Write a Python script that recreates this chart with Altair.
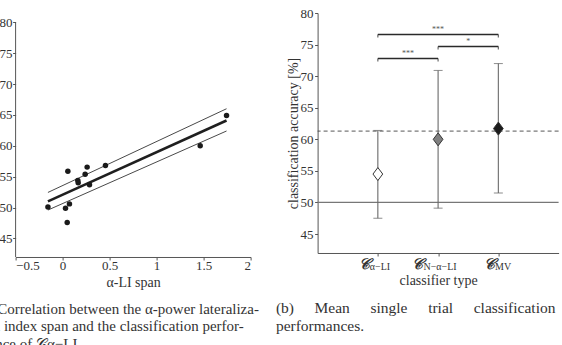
import altair as alt
import pandas as pd

# ---------------- Panel (a): correlation ----------------
li_span = [-0.156, 0.031, 0.049, 0.073, 0.056, 0.162, 0.166, 0.240, 0.261, 0.286, 0.456, 1.464, 1.744]
li_acc = [50.1, 49.9, 47.6, 50.6, 55.9, 54.4, 54.0, 55.4, 56.55, 53.7, 56.8, 60.0, 64.9]
fit_x = [-0.156, 1.744]
fit_mid = [51.0, 64.1]
fit_upper = [52.45, 66.0]
fit_lower = [49.6, 62.4]
x_ticks_a = [-0.5, 0, 0.5, 1, 1.5, 2]
y_ticks = [45, 50, 55, 60, 65, 70, 75, 80]
y_axis_range = [42, 80]

# ---------------- Panel (b): classifier accuracy ----------------
classifiers = ["α-LI", "N-α-LI", "MV"]
class_sub = ["α−LI", "N−α−LI", "MV"]
class_pos = [1, 2, 3]
mean_acc = [54.5, 60.0, 61.7]
acc_low = [47.5, 49.1, 51.5]
acc_high = [61.4, 70.9, 72.0]
chance_level = [50]
reference_level = [61.3]
bracket_from = [1, 2, 1]
bracket_to = [3, 3, 2]
bracket_y = [76.6, 74.7, 72.8]
bracket_stars = ["***", "*", "***"]

caption_a = ["(a) Correlation between the α-power lateraliza-",
             "tion index span and the classification perfor-",
             "mance of 𝒞α−LI."]
nb = "\u00a0" * 5 + "\u200a"
caption_b = ["(b)" + nb + "Mean" + nb + "single" + nb + "trial" + nb + "classification",
             "performances."]

FONT = "Liberation Serif"
AXC = "#555555"

dfa = pd.DataFrame({"span": li_span, "acc": li_acc})
dfit = pd.DataFrame({"span": fit_x, "mid": fit_mid, "upper": fit_upper, "lower": fit_lower})
dax = pd.DataFrame({"x": [x_ticks_a[0]], "y1": [y_axis_range[0]], "y2": [y_axis_range[1]]})
dfb = pd.DataFrame({"pos": class_pos, "cls": classifiers, "sub": class_sub,
                    "mean": mean_acc, "lo": acc_low, "hi": acc_high})
dbr = pd.DataFrame({"a": bracket_from, "b": bracket_to, "y": bracket_y, "stars": bracket_stars})

WA, HA = 235, 244
WB, HB = 241, 240

# ---- left panel scales / axes
xs_a = alt.Scale(domain=[-0.5, 2], nice=False, zero=False)
ys_a = alt.Scale(domain=[42, 81.5], nice=False, zero=False)
ax_xa = alt.Axis(values=x_ticks_a, format="~g", title="α-LI span", tickSize=3,
                 labelPadding=0, titlePadding=3, labelOverlap=False)
ax_ya = alt.Axis(values=y_ticks, title=None, tickSize=3, labelPadding=0.5,
                 labelOverlap=False, domain=False)


def XA(field):
    return alt.X(field, scale=xs_a, axis=ax_xa, title="α-LI span")


def YA(field):
    return alt.Y(field, scale=ys_a, axis=ax_ya, title=None)


pts = alt.Chart(dfa).mark_circle(size=30, color="#1a1a1a", opacity=1).encode(
    x=XA("span:Q"), y=YA("acc:Q"))
fit_m = alt.Chart(dfit).mark_line(color="#1f1f1f", strokeWidth=2.6).encode(
    x=XA("span:Q"), y=YA("mid:Q"))
fit_u = alt.Chart(dfit).mark_line(color="#333333", strokeWidth=0.9).encode(
    x=XA("span:Q"), y=YA("upper:Q"))
fit_l = alt.Chart(dfit).mark_line(color="#333333", strokeWidth=0.9).encode(
    x=XA("span:Q"), y=YA("lower:Q"))
y_line = alt.Chart(dax).mark_rule(color=AXC, strokeWidth=1).encode(
    x=XA("x:Q"), y=YA("y1:Q"), y2="y2:Q")

left = alt.layer(y_line, fit_u, fit_l, fit_m, pts).properties(
    width=WA, height=HA,
    title=alt.TitleParams(text=caption_a, orient="bottom", anchor="start", frame="group",
                          dx=-38.7, offset=12, font=FONT, fontSize=15, fontWeight="normal",
                          color="#333333", lineHeight=17.5))

# ---- right panel scales / axes
Y_TITLE = "classification accuracy [%]"
xs_b = alt.Scale(domain=[0, 4], nice=False, zero=False)
ys_b = alt.Scale(domain=[42, 80], nice=False, zero=False)
ax_xb = alt.Axis(values=class_pos, labels=False, title="classifier type", tickSize=3,
                 titlePadding=17)
ax_yb = alt.Axis(values=y_ticks, title=Y_TITLE, tickSize=3,
                 labelPadding=1.5, titlePadding=0, labelOverlap=False)


def XB(field):
    return alt.X(field, scale=xs_b, axis=ax_xb, title="classifier type")


def YB(field):
    return alt.Y(field, scale=ys_b, axis=ax_yb, title=Y_TITLE)


chance = alt.Chart(pd.DataFrame({"v": chance_level})).mark_rule(color="#777777", strokeWidth=1.2).encode(
    y=YB("v:Q"))
dashed = alt.Chart(pd.DataFrame({"v": reference_level})).mark_rule(
    color="#444444", strokeWidth=0.9, strokeDash=[4, 3]).encode(y=YB("v:Q"))
bars = alt.Chart(dfb).mark_rule(color="#6a6a6a", strokeWidth=1.1).encode(
    x=XB("pos:Q"), y=YB("lo:Q"), y2="hi:Q")
cap_lo = alt.Chart(dfb).mark_tick(orient="horizontal", size=9, thickness=1.1, color="#6a6a6a").encode(
    x=XB("pos:Q"), y=YB("lo:Q"))
cap_hi = alt.Chart(dfb).mark_tick(orient="horizontal", size=9, thickness=1.1, color="#6a6a6a").encode(
    x=XB("pos:Q"), y=YB("hi:Q"))
diamonds = alt.Chart(dfb).mark_point(
    shape="M0,-1L0.75,0L0,1L-0.75,0Z", filled=True, size=169, stroke="#333333",
    strokeWidth=1, opacity=1).encode(
    x=XB("pos:Q"), y=YB("mean:Q"),
    fill=alt.Fill("cls:N", scale=alt.Scale(domain=classifiers, range=["#ffffff", "#808080", "#1c1c1c"]),
                  legend=None))
br_line = alt.Chart(dbr).mark_rule(color="#2a2a2a", strokeWidth=1.6).encode(
    x=XB("a:Q"), x2="b:Q", y=YB("y:Q"))
br_ta = alt.Chart(dbr).mark_tick(orient="vertical", size=3, thickness=1.2, color="#2a2a2a", yOffset=1.5).encode(
    x=XB("a:Q"), y=YB("y:Q"))
br_tb = alt.Chart(dbr).mark_tick(orient="vertical", size=3, thickness=1.2, color="#2a2a2a", yOffset=1.5).encode(
    x=XB("b:Q"), y=YB("y:Q"))
br_txt = alt.Chart(dbr).transform_calculate(m="(datum.a + datum.b) / 2").mark_text(
    fontSize=8, color="#555555", dy=-4, font=FONT).encode(
    x=XB("m:Q"), y=YB("y:Q"), text="stars:N")

label_layers = []
label_dx = {"α-LI": -8, "N-α-LI": -14.6, "MV": -3.3}
for name in classifiers:
    base = alt.Chart(dfb).transform_filter(alt.datum.cls == name)
    label_layers.append(base.mark_text(text="𝒞", align="right", baseline="middle", dx=label_dx[name],
                                       font=FONT, fontSize=15, fontStyle="italic", fontWeight="bold",
                                       color="#333333").encode(
        x=XB("pos:Q"), y=alt.value(HB + 11)))
    label_layers.append(base.mark_text(align="left", baseline="middle", dx=label_dx[name],
                                       font=FONT, fontSize=10, color="#333333").encode(
        x=XB("pos:Q"), y=alt.value(HB + 14), text="sub:N"))

right = alt.layer(chance, dashed, bars, cap_lo, cap_hi, diamonds, br_line, br_ta, br_tb, br_txt,
                  *label_layers).properties(
    width=WB, height=HB,
    title=alt.TitleParams(text=caption_b, orient="bottom", anchor="start", frame="group",
                          dx=-41.7, offset=14, font=FONT, fontSize=15.5, fontWeight="normal",
                          color="#333333", lineHeight=18))

chart = alt.hconcat(left, right, spacing=16).properties(
    padding={"left": -23.4, "top": 7, "right": 0, "bottom": 0}
).configure_view(stroke=None).configure_axis(
    grid=False, domainColor=AXC, tickColor=AXC, domainWidth=1, tickWidth=1,
    labelOverlap=False,
    labelFont=FONT, labelFontSize=13, labelColor="#333333",
    titleFont=FONT, titleFontSize=14, titleFontWeight="normal", titleColor="#333333"
)

chart.save("out.html", embed_options={"renderer": "svg", "actions": False})
